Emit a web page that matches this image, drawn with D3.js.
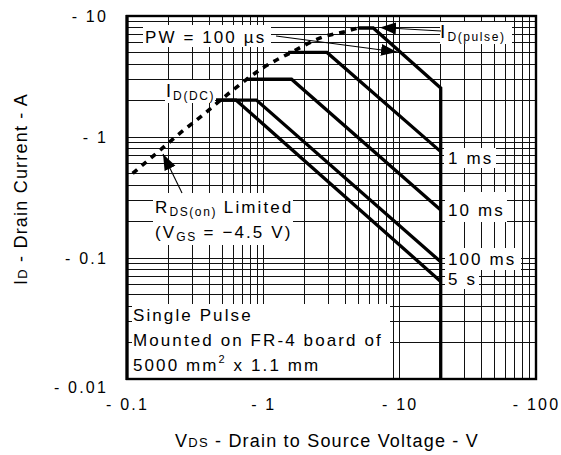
<!DOCTYPE html>
<html>
<head>
<meta charset="utf-8">
<script src="https://cdn.jsdelivr.net/npm/d3@7/dist/d3.min.js"></script>
<style>
  html, body { margin: 0; padding: 0; background: #fff; }
  svg { display: block; font-family: Arial, "Liberation Sans", sans-serif; }
</style>
</head>
<body>
<svg id="chart" width="561" height="455"></svg>
<script>
// ---------------- data ----------------
const xTickValues = [0.1, 1, 10, 100];
const xTickLabels = ["- 0.1", "- 1", "- 10", "- 100"];
const yTickValues = [0.01, 0.1, 1, 10];
const yTickLabels = ["- 0.01", "- 0.1", "- 1", "- 10"];

// R_DS(on) limit line (dashed)
const rdsV = [0.11, 0.166, 0.236, 0.36, 0.60, 0.99, 1.62, 2.73, 4.11, 4.93];
const rdsI = [0.50, 0.74, 1.04, 1.52, 2.45, 3.72, 5.04, 6.71, 7.5, 7.96];

// SOA curves
const curveNames = ["100 µs", "1 ms", "10 ms", "100 ms", "5 s"];
const v100us = [4.93, 6.4, 20, 20];
const i100us = [7.96, 7.96, 2.54, 0.01];
const v1ms = [1.52, 2.93, 20];
const i1ms = [5.0, 5.0, 0.757];
const v10ms = [0.75, 1.61, 20];
const i10ms = [3.0, 3.0, 0.249];
const v100ms = [0.45, 0.89, 20];
const i100ms = [2.02, 2.02, 0.093];
const v5s = [0.45, 0.63, 20];
const i5s = [2.02, 2.02, 0.064];

// ---------------- layout ----------------
const W = 561, H = 455;
const M = { left: 127, top: 16, right: 25, bottom: 76 };
const svg = d3.select("#chart");

const x = d3.scaleLog().domain([0.1, 100]).range([M.left, W - M.right]);
const y = d3.scaleLog().domain([0.01, 10]).range([H - M.bottom, M.top]);

const zip = (vs, is) => vs.map((v, k) => [v, is[k]]);
const line = d3.line().x(d => x(d[0])).y(d => y(d[1]));

// ---------------- grid ----------------
const grid = svg.append("g").attr("stroke", "#111").attr("stroke-width", 1).attr("shape-rendering", "crispEdges");
grid.selectAll(".gx").data(x.ticks()).join("line")
  .attr("x1", d => x(d)).attr("x2", d => x(d))
  .attr("y1", y(10)).attr("y2", y(0.01));
grid.selectAll(".gy").data(y.ticks()).join("line")
  .attr("y1", d => y(d)).attr("y2", d => y(d))
  .attr("x1", x(0.1)).attr("x2", x(100));

// ---------------- label boxes (white backgrounds) ----------------
const boxes = [
  [143, 25, 128, 22],   // PW = 100 us
  [440, 22, 72, 22],    // I_D(pulse)
  [165, 80, 50, 23],    // I_D(DC)
  [153, 193, 140, 52],  // R_DS(on)
  [132, 304, 258, 75],  // Single pulse
  [444, 148, 52, 20],   // 1 ms
  [445, 192, 62, 30],   // 10 ms
  [445, 248, 76, 22],   // 100 ms
  [445, 270, 34, 19]    // 5 s
];
svg.append("g").selectAll("rect").data(boxes).join("rect")
  .attr("x", d => d[0]).attr("y", d => d[1]).attr("width", d => d[2]).attr("height", d => d[3])
  .attr("fill", "#fff");

// ---------------- frame ----------------
svg.append("rect")
  .attr("x", x(0.1)).attr("y", y(10))
  .attr("width", x(100) - x(0.1)).attr("height", y(0.01) - y(10))
  .attr("fill", "none").attr("stroke", "#000").attr("stroke-width", 2.4);
svg.append("line")
  .attr("x1", x(0.1)).attr("x2", x(0.1)).attr("y1", y(10) - 1).attr("y2", y(0.01) + 1)
  .attr("stroke", "#000").attr("stroke-width", 3.2);

// ---------------- curves ----------------
const curves = [zip(v100us, i100us), zip(v1ms, i1ms), zip(v10ms, i10ms), zip(v100ms, i100ms), zip(v5s, i5s)];
svg.append("g").selectAll("path").data(curves).join("path")
  .attr("d", line).attr("fill", "none").attr("stroke", "#000")
  .attr("stroke-width", 3.3).attr("stroke-linejoin", "miter");

svg.append("path").datum(zip(rdsV, rdsI))
  .attr("d", line.curve(d3.curveMonotoneX)).attr("fill", "none").attr("stroke", "#000")
  .attr("stroke-width", 3.6).attr("stroke-dasharray", "6,6");

// ---------------- arrows ----------------
const defs = svg.append("defs");
defs.append("marker").attr("id", "arr")
  .attr("markerUnits", "userSpaceOnUse").attr("markerWidth", 18).attr("markerHeight", 14)
  .attr("refX", 16).attr("refY", 6).attr("orient", "auto")
  .append("path").attr("d", "M0,0 L16,6 L0,12 Z").attr("fill", "#000");

const arrows = [
  [276, 36, 397, 52],   // PW -> 100us
  [441, 31, 380, 27.5], // I_D(pulse)
  [182, 193, 163, 154]  // R_DS(on)
];
svg.append("g").selectAll("line").data(arrows).join("line")
  .attr("x1", d => d[0]).attr("y1", d => d[1]).attr("x2", d => d[2]).attr("y2", d => d[3])
  .attr("stroke", "#000").attr("stroke-width", 1.1).attr("marker-end", "url(#arr)");

// ---------------- annotation text ----------------
const T = svg.append("g").attr("fill", "#000").style("font-size", "17px").style("letter-spacing", "2.1px");

T.append("text").attr("x", 145).attr("y", 42.5).attr("xml:space", "preserve").text("PW = 100 µs");

function subLabel(xp, yb, main, sub, mainSize, subSize, subDy) {
  const t = T.append("text").attr("x", xp).attr("y", yb);
  t.append("tspan").style("font-size", mainSize + "px").text(main);
  t.append("tspan").style("font-size", subSize + "px").style("letter-spacing", "1.6px").attr("dy", subDy).text(sub);
  return t;
}
subLabel(440, 38, "I", "D(pulse)", 19, 12, 3);
subLabel(166, 97, "I", "D(DC)", 18, 12, 3);

const r1 = T.append("text").attr("x", 155).attr("y", 213);
r1.append("tspan").text("R");
r1.append("tspan").style("font-size", "12px").style("letter-spacing", "1.6px").attr("dy", 3).text("DS(on)");
r1.append("tspan").attr("dy", -3).text(" Limited");
const r2 = T.append("text").attr("x", 155).attr("y", 238);
r2.append("tspan").text("(V");
r2.append("tspan").style("font-size", "12px").style("letter-spacing", "1.6px").attr("dy", 3).text("GS");
r2.append("tspan").attr("dy", -3).text(" = \u22124.5 V)");

const msLabels = [[448, 164, curveNames[1]], [448, 216, curveNames[2]], [448, 265, curveNames[3]], [448, 285, curveNames[4]]];
T.selectAll(".ms").data(msLabels).join("text")
  .attr("x", d => d[0]).attr("y", d => d[1]).text(d => d[2]);

T.append("text").attr("x", 133).attr("y", 320.5).text("Single Pulse");
T.append("text").attr("x", 133).attr("y", 345.5).text("Mounted on FR-4 board of");
const s3 = T.append("text").attr("x", 133).attr("y", 371);
s3.append("tspan").text("5000 mm");
s3.append("tspan").style("font-size", "11px").attr("dy", -8).text("2");
s3.append("tspan").attr("dy", 8).text(" x 1.1 mm");

// ---------------- axes ----------------
const ax = svg.append("g").attr("transform", `translate(0,${y(0.01)})`)
  .call(d3.axisBottom(x).tickValues(xTickValues).tickFormat((d, k) => xTickLabels[k]).tickSize(0).tickPadding(20));
const ay = svg.append("g").attr("transform", `translate(${x(0.1)},0)`)
  .call(d3.axisLeft(y).tickValues(yTickValues).tickFormat((d, k) => yTickLabels[k]).tickSize(0).tickPadding(19));
[ax, ay].forEach(a => {
  a.select(".domain").remove();
  a.attr("font-size", null).attr("font-family", null);
  a.selectAll("text").attr("fill", "#000").style("font-size", "16px").style("letter-spacing", "2.2px");
});
ay.selectAll(".tick text").filter(d => d === 0.01).attr("dy", "0.85em");

// axis titles
const xt = svg.append("text").attr("x", 327).attr("y", 447).attr("text-anchor", "middle")
  .style("font-size", "18px").style("letter-spacing", "1.2px").attr("fill", "#000");
xt.append("tspan").text("V");
xt.append("tspan").style("font-size", "13px").text("DS");
xt.append("tspan").text(" - Drain to Source Voltage - V");

const yt = svg.append("text").attr("transform", "translate(27,189) rotate(-90)").attr("text-anchor", "middle")
  .style("font-size", "18px").style("letter-spacing", "1.2px").attr("fill", "#000");
yt.append("tspan").text("I");
yt.append("tspan").style("font-size", "13px").text("D");
yt.append("tspan").text(" - Drain Current - A");
</script>
</body>
</html>
